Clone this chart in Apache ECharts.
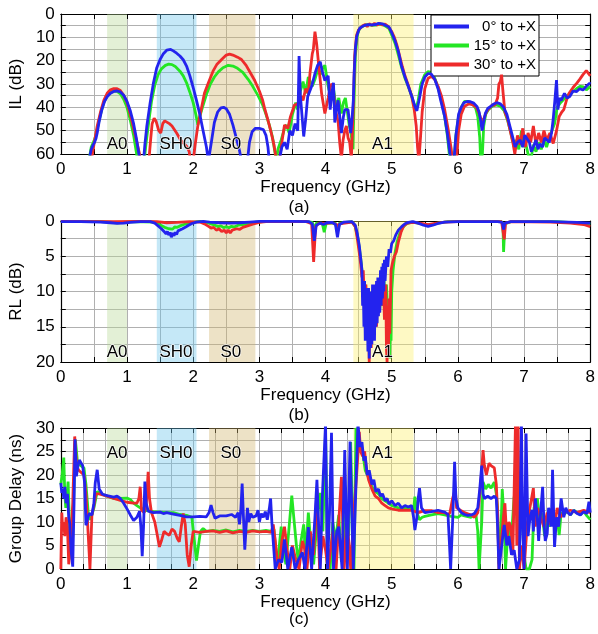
<!DOCTYPE html>
<html><head><meta charset="utf-8">
<script src="https://cdn.jsdelivr.net/npm/echarts@6/dist/echarts.min.js"></script>
<style>html,body{margin:0;padding:0;background:#fff}#c{width:598px;height:634px}</style>
</head><body><div id="c"></div>
<script>
const seriesNames = ['0° to +X', '15° to +X', '30° to +X'];
const seriesColors = ['#2323ee', '#24e624', '#ee2b2b'];

const bandNames = ['A0', 'SH0', 'S0', 'A1'];
const bandStart = [0.7, 1.45, 2.24, 4.42];
const bandEnd = [1.0, 2.05, 2.94, 5.33];
const bandFill = ['rgba(185,218,152,0.4)', 'rgba(110,197,235,0.4)', 'rgba(210,182,112,0.4)', 'rgba(252,240,108,0.4)'];
const bandLabelX = [0.85, 1.74, 2.57, 4.86];
const bandLabelYa = 55.7, bandLabelYb = 18.6, bandLabelYc = 24.6;

// (a) insertion loss, dB
const ilBlue = [[0.43,62],[0.46,58],[0.49,56],[0.51,55],[0.53,53.5],[0.55,51],[0.58,46],[0.62,41],[0.66,37.5],[0.7,35.5],[0.75,34],[0.8,33.2],[0.85,33],[0.9,33.4],[0.95,34.8],[1.0,37.5],[1.05,41.5],[1.1,47],[1.14,53],[1.18,60],[1.2,63],
[1.25,63],[1.27,56],[1.3,48],[1.35,38],[1.4,29.5],[1.45,23],[1.5,19.5],[1.55,17],[1.6,15.5],[1.63,15],[1.66,15.2],[1.7,15.8],[1.75,16.8],[1.8,18],[1.85,19.6],[1.9,22.3],[1.95,26.5],[2.0,31.5],[2.05,37],[2.1,43],[2.15,50],[2.2,57],[2.23,63],
[2.25,63],[2.28,54],[2.32,46.5],[2.37,42],[2.42,40.2],[2.46,40],[2.5,40.6],[2.55,43],[2.6,47.5],[2.65,53],[2.7,58.5],[2.73,63],
[2.82,63],[2.85,55],[2.89,50.5],[2.94,49],[3.0,49],[3.06,49.5],[3.1,52],[3.13,57],[3.15,63],
[3.3,63],[3.34,57],[3.38,55],[3.42,58],[3.46,50],[3.5,52],[3.54,47],[3.58,50],[3.6,18],[3.62,35],[3.67,52.5],[3.7,45],[3.73,35.5],[3.79,31],[3.84,25.5],[3.88,22],[3.92,20.5],[3.95,24.5],[3.99,28.5],[4.04,26.5],[4.07,41],[4.1,33],[4.12,29.5],[4.14,46.5],[4.17,40],[4.19,37],[4.24,51],[4.27,44],[4.29,41],[4.34,41],[4.38,51],[4.4,45],[4.42,37],[4.43,27],[4.45,15],[4.47,9.7],[4.5,7],[4.52,6],[4.55,5.4],[4.58,5],[4.61,4.4],[4.64,4.6],[4.67,4.2],[4.7,4.7],[4.73,4.1],[4.76,4.5],[4.8,4.0],[4.83,4.6],[4.86,4.2],[4.9,4.8],[4.93,5.1],[4.96,5.6],[5.0,8],[5.05,11.5],[5.1,16],[5.15,22.5],[5.2,27],[5.25,31],[5.3,35],[5.35,39.5],[5.38,41.5],[5.42,36],[5.46,30],[5.5,27],[5.55,25.5],[5.6,25.8],[5.65,28],[5.7,32],[5.74,37],[5.8,44],[5.84,51],[5.88,60],[5.9,63],
[5.94,63],[5.97,52],[6.01,43],[6.05,40],[6.09,38],[6.14,37.5],[6.19,37.6],[6.24,38.2],[6.29,39.7],[6.32,42],[6.34,45],[6.365,50],[6.39,46],[6.415,42.6],[6.45,40.5],[6.49,39.7],[6.54,38.6],[6.59,38],[6.64,38.5],[6.69,40],[6.74,43],[6.79,48.6],[6.83,53],[6.865,57],[6.9,55],[6.94,54],[6.98,57],[7.01,52],[7.04,52.6],[7.08,55],[7.11,59],[7.14,57],[7.18,54],[7.21,58],[7.24,55.7],[7.28,57],[7.31,53],[7.34,52.6],[7.38,55],[7.415,51],[7.44,45],[7.465,37],[7.49,28.3],[7.51,41],[7.535,36],[7.56,37],[7.61,34],[7.65,36],[7.69,35.4],[7.74,33],[7.79,33.3],[7.84,32],[7.89,32.6],[7.94,31],[7.99,29.7],[8.0,30]];
const ilGreen = [[0.43,62],[0.46,57],[0.5,54.5],[0.53,52],[0.56,48],[0.6,43],[0.65,38],[0.7,35],[0.75,33.5],[0.8,33],[0.85,33.2],[0.9,34.2],[0.95,36.5],[1.0,40],[1.05,45.5],[1.1,52],[1.14,59],[1.16,63],
[1.26,63],[1.29,55],[1.33,46],[1.37,37.5],[1.42,30.5],[1.47,26],[1.52,23.5],[1.58,22],[1.63,21.5],[1.68,21.7],[1.73,22.5],[1.8,24.5],[1.85,26.5],[1.9,29.5],[1.95,33.5],[2.0,38],[2.04,43],[2.07,47.5],[2.1,44],[2.14,40],[2.2,34.5],[2.26,30],[2.32,27],[2.38,24.8],[2.45,23],[2.53,22],[2.6,22.3],[2.67,23.3],[2.75,25],[2.83,28],[2.9,31],[2.98,35],[3.05,39],[3.1,43],[3.15,47.5],[3.2,53],[3.24,60],[3.26,63],
[3.28,58],[3.33,54],[3.38,49],[3.41,47.5],[3.45,51],[3.5,43],[3.55,38],[3.58,41],[3.62,33],[3.66,29],[3.7,34],[3.74,27],[3.8,31],[3.84,28],[3.88,24],[3.92,26],[3.96,23],[3.99,22],[4.04,31],[4.09,37],[4.12,32],[4.16,40],[4.2,36],[4.24,42.6],[4.27,38],[4.3,36],[4.32,35.4],[4.36,48],[4.38,50],[4.415,58],[4.43,38],[4.45,18],[4.48,9],[4.51,6.5],[4.54,5.6],[4.57,5.2],[4.6,4.7],[4.63,5.1],[4.66,4.5],[4.7,4.9],[4.73,4.3],[4.76,4.8],[4.8,4.4],[4.83,4.9],[4.86,4.5],[4.9,5.1],[4.93,5.6],[4.96,6.3],[5.0,9],[5.05,12.5],[5.1,17.5],[5.15,23],[5.2,27.5],[5.25,31],[5.3,35],[5.34,39],[5.37,40.5],[5.4,37],[5.44,30],[5.5,26],[5.55,24.7],[5.6,25],[5.65,27.5],[5.7,31.5],[5.75,37],[5.8,44],[5.84,52],[5.87,60],[5.89,63],
[5.94,63],[5.97,52],[6.01,44],[6.06,39.5],[6.1,37.5],[6.16,37.5],[6.22,38.5],[6.27,40.5],[6.3,44],[6.33,53],[6.345,63],[6.37,60],[6.39,48],[6.42,43],[6.46,41],[6.52,39.5],[6.58,39],[6.64,39.5],[6.7,41.5],[6.75,45.5],[6.8,51],[6.85,57],[6.88,54],[6.92,58],[6.96,50],[6.99,57],[7.02,55],[7.06,60],[7.1,63],[7.14,56],[7.18,59],[7.22,55],[7.26,58],[7.3,54],[7.34,57],[7.38,53],[7.42,50],[7.46,47],[7.5,40],[7.55,38],[7.6,36.5],[7.65,35],[7.7,34],[7.75,33],[7.8,31.8],[7.85,31],[7.9,31.2],[7.94,32.5],[7.97,33],[8.0,31]];
const ilRed = [[0.46,63],[0.5,56],[0.55,48],[0.6,42],[0.65,37],[0.7,34],[0.75,32.5],[0.8,32],[0.85,32],[0.9,32.8],[0.95,34.8],[1.0,38],[1.05,43],[1.1,49],[1.15,55],[1.19,60],[1.21,63],
[1.33,63],[1.36,53],[1.38,47],[1.41,44.7],[1.44,46],[1.48,50],[1.51,51],[1.54,47],[1.57,45.8],[1.6,45.8],[1.64,47],[1.68,48],[1.71,48],[1.75,51],[1.81,54],[1.86,55.5],[1.91,57],[1.94,59],[1.96,63],
[2.0,63],[2.03,56],[2.07,48],[2.12,41],[2.17,34],[2.23,29.5],[2.3,24.5],[2.36,21.5],[2.43,19.5],[2.5,17.6],[2.55,17.2],[2.6,17.6],[2.67,18.5],[2.73,19.5],[2.8,22],[2.87,25.5],[2.93,28.5],[3.0,33],[3.05,37],[3.08,40.5],[3.13,45.5],[3.18,51],[3.22,56],[3.26,63],
[3.3,63],[3.34,55],[3.38,47.6],[3.43,49],[3.47,44],[3.53,39],[3.58,38.5],[3.62,35],[3.66,37],[3.7,32],[3.74,34],[3.765,25.4],[3.8,17],[3.815,15.4],[3.84,7.6],[3.865,12.6],[3.89,20],[3.915,27],[3.94,34],[3.99,42.6],[4.04,36],[4.08,30],[4.115,31],[4.14,40],[4.19,46],[4.215,55.3],[4.24,62],[4.265,54],[4.29,50],[4.315,48],[4.34,53],[4.365,55],[4.39,62],[4.42,40],[4.44,18],[4.47,9],[4.5,6.8],[4.53,6],[4.56,5],[4.6,4.5],[4.63,5.4],[4.66,4.2],[4.7,4.9],[4.74,4.0],[4.78,4.7],[4.82,4.1],[4.86,4.7],[4.9,4.3],[4.94,5.2],[4.97,6],[5.0,7.5],[5.04,10],[5.08,13.5],[5.12,18],[5.16,22.5],[5.2,26.5],[5.25,30.5],[5.3,35],[5.34,41],[5.37,48],[5.39,57],[5.41,63],[5.43,55],[5.46,42],[5.5,32],[5.55,27.5],[5.6,26.8],[5.65,28],[5.7,31],[5.75,35],[5.8,41],[5.85,49],[5.9,58],[5.92,63],
[5.98,63],[6.01,50],[6.05,43],[6.1,39.5],[6.17,38.5],[6.23,39],[6.28,40],[6.32,42.5],[6.36,46],[6.39,45],[6.43,42],[6.47,40.5],[6.52,39],[6.56,39],[6.6,36],[6.62,30],[6.64,29],[6.66,26],[6.68,33],[6.71,42],[6.75,45],[6.79,50],[6.83,55],[6.86,60],[6.9,52],[6.94,56],[6.98,49],[7.02,57],[7.06,51],[7.1,55],[7.14,48],[7.18,56],[7.22,51],[7.26,55],[7.3,50],[7.34,54],[7.39,51],[7.44,55.5],[7.49,50],[7.53,44],[7.57,42],[7.6,41],[7.64,37],[7.68,34],[7.74,31.5],[7.8,29.5],[7.84,28],[7.89,26],[7.94,24.3],[7.97,24.8],[8.0,26.5]];

// (b) return loss, dB
const rlBlue = [[0,0.1],[0.3,0.1],[0.6,0.15],[0.75,0.25],[0.85,0.35],[0.95,0.3],[1.05,0.2],[1.2,0.1],[1.35,0.1],[1.42,0.3],[1.47,0.7],[1.52,1.1],[1.56,1.5],[1.59,1.8],[1.61,1.5],[1.63,2.0],[1.65,1.6],[1.67,2.3],[1.69,1.7],[1.71,2.1],[1.73,1.6],[1.75,1.9],[1.77,1.4],[1.8,1.5],[1.84,1.1],[1.88,0.9],[1.93,0.6],[1.98,0.35],[2.05,0.15],[2.15,0.05],[2.25,0.15],[2.4,0.25],[2.55,0.3],[2.7,0.25],[2.85,0.15],[3.0,0.05],[3.5,0.05],[3.75,0.1],[3.8,0.4],[3.83,2.8],[3.86,0.6],[3.92,0.3],[3.97,0.5],[4.02,0.25],[4.1,0.2],[4.15,0.5],[4.18,2.3],[4.21,0.5],[4.28,0.15],[4.4,0.1],[4.45,0.6],[4.48,1.8],[4.51,3.5],[4.54,6],
[4.55,7],[4.56,12],[4.57,9],[4.58,15],[4.59,8.5],[4.6,17],[4.61,9.5],[4.62,16],[4.63,10],[4.64,18.5],[4.65,9.5],[4.66,19.5],[4.67,11],[4.68,18],[4.69,10],[4.7,17.5],[4.71,9],[4.72,16],[4.73,10],[4.74,17],[4.75,9],[4.76,15],[4.77,8.5],[4.78,14.5],[4.79,8],[4.8,13.5],[4.81,8],[4.82,13],[4.83,7],[4.84,12],[4.85,6.5],[4.86,11],[4.87,6],[4.88,10],[4.89,5.5],[4.9,8.5],[4.92,5],[4.94,6.5],[4.96,4],[4.98,4.5],[5.0,3.2],[5.03,2.8],[5.06,2],[5.1,1.3],[5.15,0.8],[5.2,0.4],[5.25,0.2],[5.32,0.1],[5.4,0.3],[5.48,0.6],[5.55,0.75],[5.62,0.6],[5.7,0.35],[5.8,0.15],[6.0,0.1],[6.6,0.1],[6.67,0.2],[6.69,1.2],[6.71,0.3],[6.8,0.1],[7.4,0.1],[7.8,0.2],[8.0,0.3]];
const rlGreen = [[0,0.05],[0.6,0.1],[0.85,0.25],[1.1,0.1],[1.4,0.15],[1.47,0.4],[1.53,0.7],[1.57,0.9],[1.6,0.8],[1.63,1.1],[1.66,0.9],[1.69,1.15],[1.72,0.85],[1.76,0.9],[1.8,0.7],[1.86,0.5],[1.93,0.3],[2.0,0.15],[2.1,0.05],[2.2,0.2],[2.27,0.4],[2.33,0.6],[2.38,0.8],[2.42,0.7],[2.46,0.95],[2.5,0.8],[2.54,0.95],[2.58,0.75],[2.62,0.85],[2.68,0.6],[2.75,0.5],[2.85,0.3],[2.95,0.15],[3.1,0.05],[3.7,0.05],[3.8,0.2],[3.83,1.2],[3.86,0.3],[3.95,0.3],[3.98,1.6],[4.01,0.3],[4.15,0.3],[4.18,1.5],[4.21,0.3],[4.4,0.1],[4.45,0.8],[4.49,2.5],[4.52,4.5],
[4.54,6],[4.56,8],[4.58,11],[4.6,9],[4.62,14],[4.64,10],[4.66,16],[4.68,11],[4.7,15],[4.72,10],[4.74,14],[4.76,9.5],[4.78,13],[4.8,9],[4.82,12.5],[4.84,8.5],[4.86,12],[4.88,8],[4.9,11],[4.92,9],[4.94,13],[4.96,16],[4.97,19.5],[4.98,14],[4.99,17],[5.0,10],[5.02,7],[5.05,4.5],[5.08,3],[5.12,1.8],[5.16,1],[5.22,0.4],[5.3,0.15],[5.4,0.3],[5.5,0.5],[5.58,0.6],[5.7,0.3],[5.85,0.1],[6.5,0.05],[6.66,0.1],[6.68,0.4],[6.69,4.4],[6.71,0.4],[6.8,0.1],[7.5,0.1],[8.0,0.4]];
const rlRed = [[0,0.05],[0.8,0.1],[1.2,0.05],[1.45,0.1],[1.6,0.25],[1.75,0.2],[1.95,0.1],[2.1,0.15],[2.17,0.4],[2.22,0.7],[2.27,1.0],[2.31,0.9],[2.35,1.3],[2.39,1.1],[2.43,1.5],[2.47,1.3],[2.5,1.7],[2.53,1.3],[2.56,1.7],[2.59,1.3],[2.62,1.5],[2.66,1.1],[2.7,1.2],[2.75,0.9],[2.82,0.7],[2.9,0.45],[3.0,0.2],[3.1,0.1],[3.7,0.05],[3.79,0.4],[3.82,5.8],[3.85,0.8],[3.9,0.3],[4.0,0.35],[4.1,0.25],[4.17,0.5],[4.19,1.2],[4.21,0.4],[4.4,0.15],[4.45,0.8],[4.48,2.5],[4.51,4.5],[4.53,6],[4.55,8],[4.57,7],[4.59,12],[4.61,9],[4.63,15],[4.65,11],[4.66,20],[4.67,12],[4.69,18],[4.71,11],[4.73,16],[4.75,10],[4.77,15],[4.79,9],[4.81,13],[4.83,8],[4.85,12],[4.87,7.5],[4.89,14],[4.91,9],[4.92,18],[4.93,20],[4.94,12],[4.95,19],[4.96,11],[4.97,16],[4.99,7],[5.01,6],[5.04,5],[5.07,4.4],[5.1,3],[5.14,1.6],[5.18,0.7],[5.24,0.3],[5.32,0.2],[5.45,0.35],[5.55,0.5],[5.65,0.35],[5.8,0.15],[6.0,0.1],[6.66,0.1],[6.68,0.3],[6.7,2.6],[6.72,0.3],[6.8,0.1],[7.4,0.15],[7.7,0.3],[7.9,0.5],[8.0,0.8]];

// (c) group delay, ns
const gdBlue = [[0,18.3],[0.015,16.2],[0.03,17],[0.045,15],[0.06,17.5],[0.08,14],[0.1,16],[0.12,11],[0.135,9.7],[0.155,4],[0.18,0.5],[0.2,14],[0.215,27.6],[0.235,19.7],[0.26,22],[0.28,23.2],[0.31,22.8],[0.33,22],[0.36,18.3],[0.38,9.3],[0.41,11],[0.43,11.8],[0.47,11.5],[0.5,14],[0.52,18.3],[0.55,21.1],[0.58,17],[0.63,15.9],[0.7,15.6],[0.8,15.3],[0.85,15.5],[0.9,15],[0.95,14],[1.0,12.8],[1.05,11.5],[1.1,10.3],[1.15,11],[1.19,12.3],[1.21,9],[1.23,2.7],[1.25,9],[1.27,18.6],[1.29,14],[1.32,12.3],[1.4,12],[1.5,12.1],[1.55,11.8],[1.6,12],[1.7,11.7],[1.8,11.4],[1.9,11.1],[2.0,11.1],[2.1,11.2],[2.2,11.1],[2.24,12],[2.27,13.6],[2.3,12],[2.33,10.8],[2.4,11.3],[2.5,11.3],[2.58,11.6],[2.64,11],[2.68,12],[2.7,9.5],[2.72,12.5],[2.74,18.2],[2.76,11],[2.78,4.1],[2.8,9],[2.82,13],[2.84,10],[2.87,11.8],[2.9,11],[2.95,11.3],[2.98,12.5],[3.0,10],[3.03,11.8],[3.06,11],[3.09,12.2],[3.12,10.5],[3.15,12.8],[3.17,15],[3.19,9.7],[3.24,0],
[3.29,2],[3.34,1.4],[3.38,6.3],[3.43,0],[3.49,4.7],[3.54,0],[3.59,2],[3.65,3.5],[3.69,0],[3.74,8.9],[3.79,0],[3.84,11],[3.87,19],[3.92,0],[3.95,14.9],[4.0,31],[4.03,0],[4.06,12],[4.09,29],[4.12,0],[4.17,8],[4.2,9],[4.25,0],[4.29,25.3],[4.33,0],[4.37,27.1],[4.42,0],[4.46,18],[4.49,31],
[4.52,26],[4.55,27],[4.58,23],[4.6,24],[4.63,20],[4.66,21],[4.7,18],[4.73,19],[4.76,16.5],[4.8,17],[4.83,15.5],[4.86,16],[4.9,14.5],[4.93,15],[4.96,13.8],[5.0,14.5],[5.05,13.5],[5.1,14],[5.15,13],[5.2,13.5],[5.25,13.2],[5.3,13.5],[5.33,11],[5.35,8.3],[5.38,11],[5.4,15],[5.42,17.2],[5.45,13],[5.5,12],[5.6,12.2],[5.7,12.5],[5.8,12.1],[5.85,11.6],[5.87,6],[5.89,0],[5.92,10],[5.95,22.8],[5.97,15],[6.0,13],[6.05,12],[6.1,11.6],[6.15,11.4],[6.2,11.5],[6.25,11.8],[6.3,13],[6.33,17],[6.36,22],[6.38,16],[6.4,15],[6.45,15.5],[6.5,15],[6.55,15.5],[6.58,15],[6.6,9],[6.62,0],[6.64,0],[6.67,6],[6.7,9.4],[6.74,5],[6.77,7],[6.81,3],[6.85,4],[6.89,0],[6.93,2],[6.96,31],[6.98,8],[7.0,0],[7.03,28.8],[7.06,7],[7.09,11],[7.12,12.6],[7.14,8],[7.17,15],[7.2,11],[7.22,6],[7.25,12],[7.28,17.5],[7.3,10],[7.32,6],[7.35,7.6],[7.37,13],[7.39,12],[7.41,9],[7.43,21.1],[7.46,4.7],[7.49,11],[7.52,9],[7.56,15],[7.6,11],[7.63,13],[7.66,12],[7.7,11.5],[7.75,12.5],[7.8,11.8],[7.85,11.5],[7.9,12.2],[7.95,11.8],[7.98,14.3],[8.0,12]];
const gdGreen = [[0,18],[0.02,20],[0.045,23.7],[0.06,16],[0.075,13],[0.09,15],[0.11,18.6],[0.13,10],[0.15,5],[0.17,2],[0.195,15],[0.22,27.5],[0.25,23],[0.3,22],[0.35,21.5],[0.38,18],[0.42,11],[0.45,10.5],[0.5,13],[0.55,16.5],[0.6,16],[0.7,15.5],[0.8,15],[0.9,15],[1.0,15.1],[1.05,14.8],[1.1,14],[1.15,13.5],[1.2,13],[1.25,12.7],[1.3,12.4],[1.4,12.2],[1.5,12.1],[1.6,12],[1.7,12],[1.8,11.6],[1.9,11.4],[1.98,11],[2.01,7],[2.05,1.8],[2.08,5],[2.11,8],[2.15,8.6],[2.2,8],[2.3,8.2],[2.4,8],[2.5,8.3],[2.6,7.9],[2.7,8.2],[2.8,8],[2.9,8.2],[3.0,8],[3.1,8.2],[3.18,8],[3.22,8.5],[3.25,4],[3.28,1],[3.3,4.7],[3.33,9],[3.37,4],[3.4,1],[3.45,9],[3.49,15.6],[3.52,11],[3.56,5],[3.59,1.5],[3.63,6],[3.67,9.5],[3.7,3],[3.74,12],[3.78,5],[3.82,1],[3.87,10],[3.92,16.2],[3.96,8],[4.0,29],[4.03,4.7],[4.07,0],[4.11,10],[4.15,6],[4.2,11.5],[4.24,1.5],[4.28,8],[4.32,14],[4.35,7],[4.38,27],[4.41,8],[4.43,0],[4.46,30],[4.5,28],
[4.53,26],[4.56,25],[4.6,21],[4.65,19.5],[4.7,17.5],[4.75,16.5],[4.8,16],[4.85,15],[4.9,14.5],[4.95,14],[5.0,13.5],[5.1,13],[5.2,13],[5.3,13],[5.33,12.5],[5.35,15.4],[5.38,12],[5.42,10.5],[5.46,11],[5.5,11.2],[5.6,11.5],[5.7,11.8],[5.8,11.5],[5.9,11.2],[6.0,11],[6.05,11.5],[6.1,11.3],[6.2,11],[6.27,12],[6.3,8],[6.32,0],[6.34,0],[6.36,10],[6.38,18.5],[6.42,17],[6.46,18],[6.5,17.2],[6.55,18.5],[6.58,16],[6.6,13],[6.62,1],[6.65,8],[6.67,17],[6.7,10],[6.72,0],[6.76,9],[6.8,5],[6.85,15.4],[6.88,13],[6.92,8],[6.97,11],[7.0,3],[7.03,0],[7.08,0],[7.12,2],[7.15,13],[7.17,12.6],[7.2,15],[7.24,10],[7.27,12],[7.31,7],[7.34,11],[7.38,9],[7.42,12],[7.46,10],[7.5,11],[7.53,7.2],[7.56,12],[7.6,11.5],[7.65,12.3],[7.7,11.5],[7.75,12.5],[7.8,12],[7.85,11.5],[7.9,12.3],[7.95,11.3],[8.0,10.5]];
const gdRed = [[0,0],[0.015,12],[0.03,8],[0.045,10],[0.06,7],[0.08,11],[0.1,9],[0.12,1],[0.15,6],[0.18,14],[0.21,28.2],[0.24,22],[0.27,21],[0.3,21],[0.35,20],[0.38,16],[0.4,11],[0.43,3],[0.44,0],[0.46,0],[0.47,11.5],[0.5,13.5],[0.53,16],[0.58,16],[0.7,15.5],[0.8,15],[0.9,14.6],[1.0,14.2],[1.1,14],[1.15,14],[1.18,15],[1.2,17.5],[1.22,12.5],[1.26,12],[1.29,13.5],[1.32,20.7],[1.34,15],[1.37,12],[1.42,10],[1.46,7],[1.49,4.7],[1.52,6],[1.56,8],[1.6,7.5],[1.64,7.2],[1.68,8.5],[1.72,8],[1.76,6.5],[1.79,5.8],[1.82,9],[1.85,11.8],[1.88,9.5],[1.91,3],[1.94,0.5],[1.97,5],[2.0,8],[2.1,7.8],[2.2,8],[2.3,8.1],[2.4,7.8],[2.5,8.1],[2.6,7.7],[2.7,8],[2.8,7.8],[2.9,8.1],[3.0,7.9],[3.1,8],[3.18,7.8],[3.21,9.5],[3.24,6],[3.27,2],[3.3,0],[3.34,6],[3.38,9],[3.42,4],[3.46,0],[3.5,5],[3.55,2],[3.6,0],[3.65,6],[3.69,4],[3.72,0],[3.77,8],[3.82,3],[3.87,17],[3.91,0],[3.96,7],[4.0,4],[4.04,0],[4.11,8],[4.16,0],[4.2,10],[4.24,19.6],[4.28,0],[4.33,10],[4.38,0],[4.43,12.5],[4.47,20],[4.51,29.2],
[4.53,25],[4.56,24],[4.59,25],[4.62,21],[4.65,19],[4.7,17],[4.75,15.5],[4.8,15],[4.85,14],[4.9,13.5],[4.95,13],[5.0,12.8],[5.1,12.5],[5.2,12.5],[5.3,12.5],[5.4,12],[5.5,12.4],[5.6,12.4],[5.7,12],[5.8,12],[5.85,11.5],[5.88,12],[5.92,15],[5.96,17],[5.98,13],[6.0,13],[6.1,12],[6.2,11.5],[6.25,11],[6.3,12],[6.33,16],[6.36,21],[6.38,25.3],[6.4,22],[6.43,20],[6.47,22.5],[6.5,22],[6.55,21.5],[6.58,18],[6.6,12],[6.62,0],[6.65,5],[6.68,10],[6.71,14],[6.74,6],[6.77,10],[6.8,9],[6.83,3],[6.87,31],[6.89,5],[6.91,31],[6.93,0],[6.96,5],[7.0,0],[7.05,10],[7.1,14],[7.14,17.2],[7.17,9],[7.2,13],[7.25,11],[7.3,9],[7.35,12],[7.39,9.5],[7.43,11],[7.47,10],[7.5,13],[7.55,11],[7.6,12],[7.7,12.5],[7.8,12],[7.9,12.5],[8.0,12]];

const FONT = 'Liberation Sans, Arial, sans-serif';
const grids = [
  {left: 58, top: 14, width: 533, height: 140},
  {left: 58, top: 221, width: 533, height: 141},
  {left: 56, top: 428, width: 536, height: 141}
];
const yConf = [
  {min: 0, max: 60, interval: 10, inverse: true, name: 'IL (dB)', gap: 34},
  {min: 0, max: 20, interval: 5, inverse: true, name: 'RL (dB)', gap: 34},
  {min: 0, max: 30, interval: 5, inverse: false, name: 'Group Delay (ns)', gap: 34}
];
const xMinorSplit = [2, 2, 3];
const gridLineStyle = {color: '#b0b0b0', width: 1};

const xAxes = [], yAxes = [];
for (let g = 0; g < 3; g++) {
  xAxes.push({
    gridIndex: g, type: 'value', min: 0, max: 8, interval: 1, position: 'bottom',
    name: 'Frequency (GHz)', nameLocation: 'middle', nameGap: g === 1 ? 25 : 23,
    nameTextStyle: {fontFamily: FONT, fontSize: 17, color: '#000'},
    axisLine: {show: true, onZero: false, lineStyle: {color: '#000', width: 1.2}},
    axisTick: {show: true, inside: true, length: 5, lineStyle: {color: '#000'}},
    minorTick: {show: true, splitNumber: xMinorSplit[g], length: 5, lineStyle: {color: '#000'}},
    axisLabel: {fontFamily: FONT, fontSize: 17, color: '#000', margin: 7},
    splitLine: {show: true, lineStyle: gridLineStyle},
    minorSplitLine: {show: true, lineStyle: gridLineStyle}
  });
}
for (let g = 0; g < 3; g++) {
  xAxes.push({
    gridIndex: g, type: 'value', min: 0, max: 8, interval: 1, position: 'top',
    axisLine: {show: true, onZero: false, lineStyle: {color: '#000', width: 1.2}},
    axisTick: {show: true, inside: true, length: 5, lineStyle: {color: '#000'}},
    minorTick: {show: true, splitNumber: xMinorSplit[g], length: 5, lineStyle: {color: '#000'}},
    axisLabel: {show: false}, splitLine: {show: false}
  });
}
for (let g = 0; g < 3; g++) {
  const c = yConf[g];
  yAxes.push({
    gridIndex: g, type: 'value', min: c.min, max: c.max, interval: c.interval, inverse: c.inverse, position: 'left',
    name: c.name, nameLocation: 'middle', nameGap: c.gap, nameRotate: 90,
    nameTextStyle: {fontFamily: FONT, fontSize: 17, color: '#000'},
    axisLine: {show: true, onZero: false, lineStyle: {color: '#000', width: 1.2}},
    axisTick: {show: true, inside: true, length: 5, lineStyle: {color: '#000'}},
    minorTick: {show: true, splitNumber: 2, length: 5, lineStyle: {color: '#000'}},
    axisLabel: {fontFamily: FONT, fontSize: 17, color: '#000', margin: 6},
    splitLine: {show: true, lineStyle: gridLineStyle},
    minorSplitLine: {show: true, lineStyle: gridLineStyle}
  });
}
for (let g = 0; g < 3; g++) {
  const c = yConf[g];
  yAxes.push({
    gridIndex: g, type: 'value', min: c.min, max: c.max, interval: c.interval, inverse: c.inverse, position: 'right',
    axisLine: {show: true, onZero: false, lineStyle: {color: '#000', width: 1.2}},
    axisTick: {show: true, inside: true, length: 5, lineStyle: {color: '#000'}},
    minorTick: {show: true, splitNumber: 2, length: 5, lineStyle: {color: '#000'}},
    axisLabel: {show: false}, splitLine: {show: false}
  });
}

const dataSets = [
  [ilBlue, ilGreen, ilRed],
  [rlBlue, rlGreen, rlRed],
  [gdBlue, gdGreen, gdRed]
];
const labelY = [bandLabelYa, bandLabelYb, bandLabelYc];
const drawOrder = [1, 2, 0]; // green, red, blue on top

const series = [];
for (let g = 0; g < 3; g++) {
  series.push({
    type: 'scatter', xAxisIndex: g, yAxisIndex: g, data: [], silent: true, z: 1,
    markArea: {
      silent: true, z: 1,
      data: bandNames.map((n, i) => [
        {xAxis: bandStart[i], itemStyle: {color: bandFill[i]}},
        {xAxis: bandEnd[i]}
      ])
    }
  });
  drawOrder.forEach((k, j) => {
    series.push({
      name: seriesNames[k], type: 'line', xAxisIndex: g, yAxisIndex: g,
      data: dataSets[g][k], showSymbol: false, symbol: 'none', clip: true,
      lineStyle: {color: seriesColors[k], width: 2.8}, itemStyle: {color: seriesColors[k]},
      z: 3 + j, animation: false
    });
  });
  series.push({
    type: 'scatter', xAxisIndex: g, yAxisIndex: g, symbolSize: 1, silent: true, z: 20,
    itemStyle: {opacity: 0},
    data: bandNames.map((n, i) => ({value: [bandLabelX[i], labelY[g]], name: n})),
    label: {show: true, position: 'inside', formatter: p => p.name, opacity: 1,
      fontFamily: FONT, fontSize: 17, color: '#000', textBorderColor: 'rgba(255,255,255,0.85)', textBorderWidth: 1.5}
  });
}

const chart = echarts.init(document.getElementById('c'), null, {renderer: 'canvas'});
chart.setOption({
  animation: false,
  backgroundColor: '#fff',
  grid: grids,
  xAxis: xAxes,
  yAxis: yAxes,
  legend: {
    data: seriesNames, orient: 'vertical', left: 431, top: 15,
    itemWidth: 35, itemHeight: 4, itemGap: 4, icon: 'rect',
    padding: [4, 3, 4, 3], backgroundColor: '#fff', borderColor: '#000', borderWidth: 1,
    textStyle: {fontFamily: FONT, fontSize: 15, color: '#000',
      rich: {t: {width: 62, align: 'right', fontFamily: FONT, fontSize: 15, color: '#000'}}},
    formatter: n => '{t|' + n + '}'
  },
  graphic: [
    {type: 'text', left: 'center', top: 199, style: {text: '(a)', font: '17px ' + FONT, fill: '#000'}},
    {type: 'text', left: 'center', top: 407, style: {text: '(b)', font: '17px ' + FONT, fill: '#000'}},
    {type: 'text', left: 'center', top: 611, style: {text: '(c)', font: '17px ' + FONT, fill: '#000'}}
  ],
  series: series
});
</script>
</body></html>
